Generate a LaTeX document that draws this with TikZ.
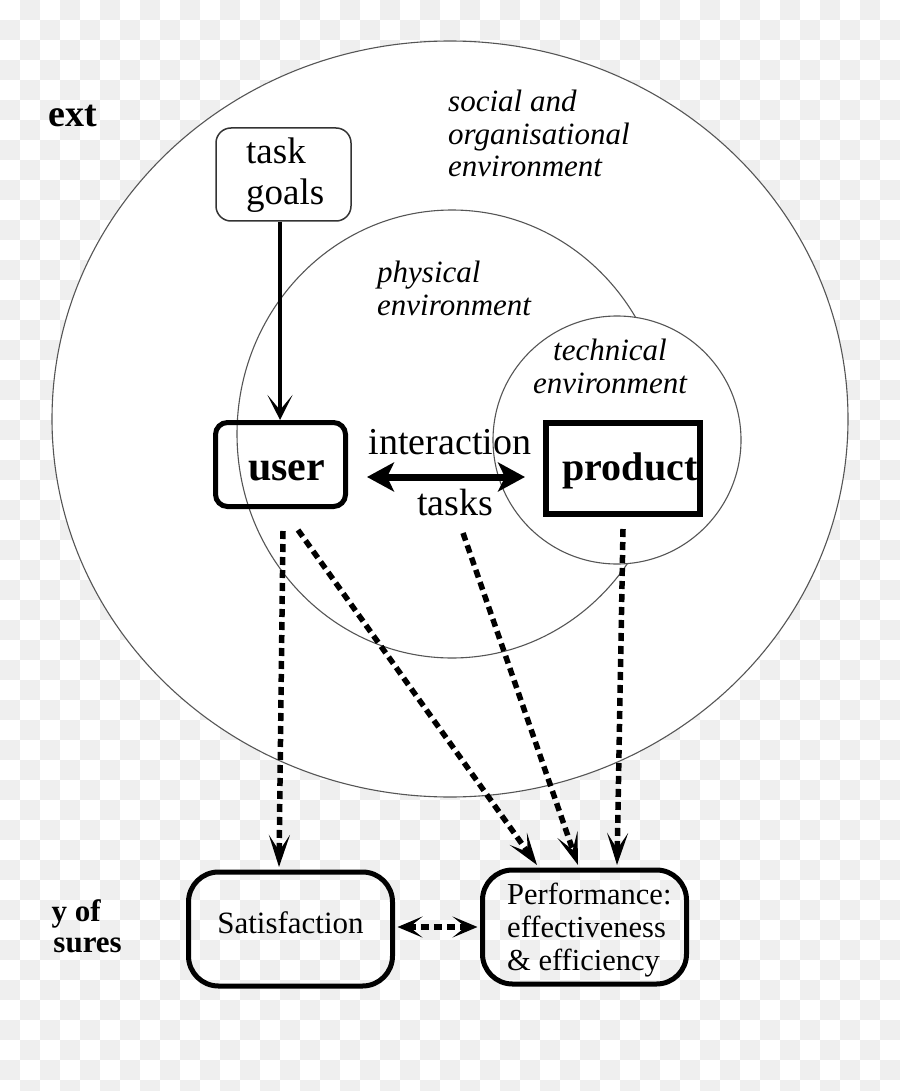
\documentclass[tikz,border=0pt]{standalone}
\usepackage{fontspec}
\setmainfont{Liberation Serif}
\usetikzlibrary{arrows.meta,calc}
\definecolor{chk}{HTML}{EFEFEF}
\definecolor{ring}{HTML}{555555}
\begin{document}
\begin{tikzpicture}[x=1pt,y=-1pt,
  envline/.style={draw=ring,line width=1.1pt},
  thinbox/.style={draw=black!80,line width=1.5pt,rounded corners=15pt,inner sep=0pt,
    minimum width=135pt,minimum height=93pt},
  thickbox/.style={draw,line width=5pt,rounded corners=12pt,inner sep=0pt},
  squarebox/.style={draw,line width=6pt,inner sep=0pt},
  measbox/.style={draw,line width=5pt,rounded corners=30pt,inner sep=0pt,
    minimum width=204pt,minimum height=114pt},
  envtext/.style={font=\itshape\fontsize{31}{32.5}\selectfont,inner sep=0pt},
  plain/.style={inner sep=0pt},
  solidarrow/.style={line width=4.5pt,-{Stealth[length=25pt,width=25pt,inset=15pt]}},
  dblarrow/.style={line width=7pt,{Stealth[length=27pt,width=29pt,inset=7pt]}-{Stealth[length=27pt,width=29pt,inset=7pt]}},
  dsh/.style={line width=5.5pt,dash pattern=on 8pt off 5pt,-{Stealth[length=32pt,width=21pt,inset=16pt]}},
  dshdbl/.style={line width=5.5pt,dash pattern=on 8pt off 5pt,{Stealth[length=25pt,width=21pt,inset=13pt]}-{Stealth[length=25pt,width=21pt,inset=13pt]}}
]
\useasboundingbox (0,0) rectangle (900,1091);
% checkered background
\fill[white] (0,0) rectangle (900,1091);
\foreach \i in {0,...,44}{
  \foreach \j in {0,...,54}{
    \pgfmathtruncatemacro\kk{\i+\j}
    \ifodd\kk \fill[chk] (\i*20,\j*20) rectangle ++(20,20); \fi
  }
}
% environments
\filldraw[fill=white,envline] (450,419) ellipse [x radius=398pt, y radius=378pt];
\draw[envline] (452,434) ellipse [x radius=215pt, y radius=224pt];
\filldraw[fill=white,envline] (617,440) circle [radius=124pt];

% side texts (cut off)
\node[plain,anchor=base east,font=\bfseries\fontsize{38}{40}\selectfont] (ctx) at (97,127) {ext};
\node[plain,anchor=base east,font=\bfseries\fontsize{31}{32}\selectfont] (msa) at (101,921) {y of};
\node[plain,anchor=base east,font=\bfseries\fontsize{31}{32}\selectfont] (msb) at (122,952) {sures};

% environment labels (anchor = baseline of last line)
\node[envtext,anchor=base west,align=left] (soc) at (448,177) {social and\\organisational\\environment};
\node[envtext,anchor=base west,align=left] (phy) at (377,315) {physical\\environment};
\node[envtext,anchor=base,align=center] (tec) at (610,393) {technical\\environment};

% boxes
\node[thinbox] (goals) at (283.5,174.5) {};
\node[plain,anchor=base west,align=left,font=\fontsize{37}{41}\selectfont] (goalstxt) at (246,205) {task\\goals};
\node[thickbox,minimum width=130pt,minimum height=84pt,font=\bfseries\fontsize{42}{44}\selectfont] (user) at (280.5,464.5) {\hspace*{12pt}\raisebox{-15.5pt}[0pt][0pt]{user}};
\node[squarebox,minimum width=154pt,minimum height=91pt,font=\bfseries\fontsize{40}{42}\selectfont] (product) at (623,468.5) {\hspace*{14pt}\raisebox{-11.5pt}[0pt][0pt]{product}};
\node[measbox,font=\fontsize{31}{33}\selectfont] (sat) at (290.5,929) {\raisebox{-4pt}[0pt][0pt]{Satisfaction}};
\node[measbox] (perf) at (584.5,927) {};
\node[plain,anchor=base west,align=left,font=\fontsize{30.5}{33}\selectfont] (perftxt) at (507,970) {Performance:\\effectiveness\\\& efficiency};

% interaction
\node[plain,anchor=base,font=\fontsize{38}{40}\selectfont] (inter) at (450,454) {interaction};
\node[plain,anchor=base,font=\fontsize{38}{40}\selectfont] (tasks) at (455,515) {tasks};
\coordinate (ia) at (367,477);
\coordinate (ib) at (525,477);
\draw[dblarrow] (ia) -- (ib);

% arrows
\draw[solidarrow] (goals.south -| 280,0) -- (user.north -| 280,0);
\coordinate (us1) at (283,531);
\coordinate (us2) at (298,530);
\coordinate (ts) at (463,533);
\coordinate (ps) at (623,529);
\draw[dsh] (us1) -- ($(sat.north)+(-11.5,-2.5)$);
\draw[dsh] (us2) -- ($(perf.north)+(-47.5,-2.5)$);
\draw[dsh] (ts) -- ($(perf.north)+(-6.5,-2.5)$);
\draw[dsh] (ps) -- ($(perf.north)+(32.5,-2.5)$);
\draw[dshdbl] ($(sat.east)+(2.5,-2)$) -- ($(perf.west)+(-2.5,0)$);
\end{tikzpicture}
\end{document}
